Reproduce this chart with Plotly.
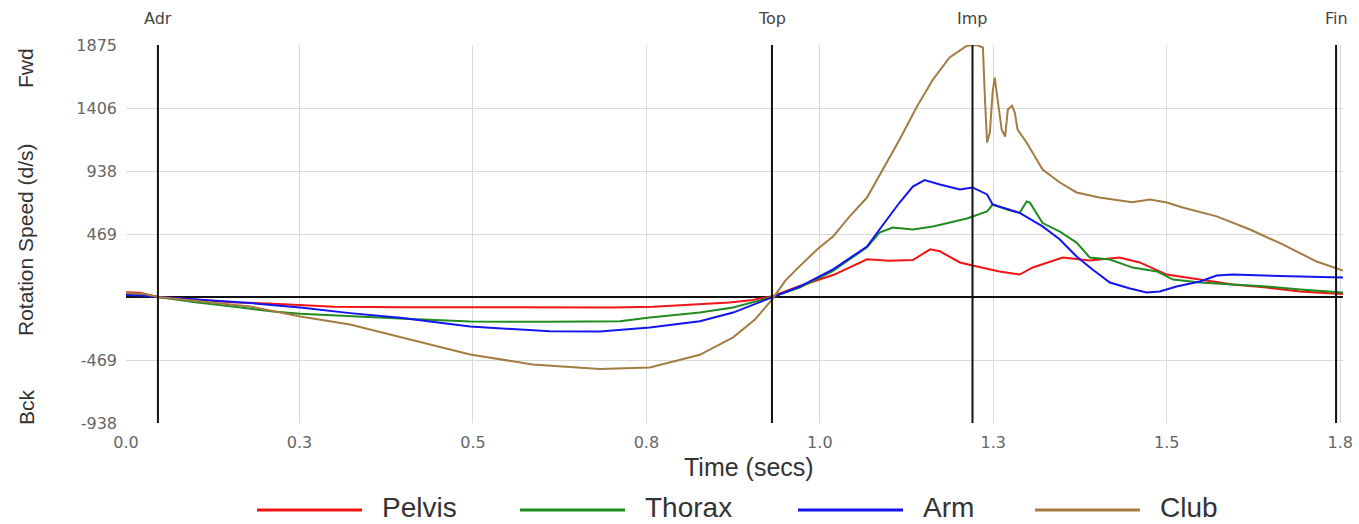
import plotly.graph_objects as go

# ---- rotation speed samples (time in s, speed in deg/s) ----
pelvis_t = [0.0, 0.02, 0.046, 0.10, 0.16, 0.22, 0.27, 0.30, 0.40, 0.50, 0.60, 0.70, 0.76, 0.82,
            0.87, 0.90, 0.931, 0.97, 1.02, 1.068, 1.10, 1.134, 1.159, 1.173, 1.202, 1.22, 1.259,
            1.288, 1.307, 1.35, 1.389, 1.432, 1.461, 1.50, 1.548, 1.595, 1.644, 1.692, 1.739, 1.754]
pelvis_v = [35, 32, 0, -20, -40, -52, -62, -72, -76, -77, -78, -78, -72, -55,
            -40, -25, 5, 80, 165, 280, 270, 275, 355, 340, 257, 234, 190,
            167, 220, 294, 272, 294, 257, 167, 130, 93, 70, 41, 26, 22]

thorax_t = [0.0, 0.02, 0.046, 0.10, 0.16, 0.212, 0.251, 0.323, 0.395, 0.496, 0.611, 0.712, 0.755,
            0.827, 0.875, 0.924, 0.931, 0.971, 1.019, 1.068, 1.086, 1.105, 1.134, 1.163, 1.212,
            1.241, 1.249, 1.270, 1.288, 1.298, 1.303, 1.321, 1.346, 1.370, 1.389, 1.418, 1.451,
            1.486, 1.509, 1.548, 1.595, 1.644, 1.692, 1.754]
thorax_v = [20, 18, 0, -40, -75, -108, -125, -145, -160, -182, -185, -180, -153,
            -116, -78, -10, 0, 70, 195, 370, 480, 517, 502, 525, 584,
            636, 688, 650, 626, 710, 700, 550, 487, 405, 294, 279, 219,
            190, 130, 108, 93, 78, 56, 33]

arm_t = [0.0, 0.02, 0.046, 0.107, 0.179, 0.251, 0.323, 0.395, 0.496, 0.611, 0.683, 0.755, 0.827,
         0.875, 0.924, 0.931, 0.971, 1.019, 1.068, 1.086, 1.115, 1.134, 1.151, 1.173, 1.202, 1.220,
         1.241, 1.249, 1.259, 1.288, 1.321, 1.346, 1.370, 1.393, 1.418, 1.447, 1.471, 1.490, 1.514,
         1.548, 1.572, 1.595, 1.692, 1.754]
arm_v = [15, 12, 0, -20, -45, -78, -120, -155, -220, -255, -257, -227, -180,
         -116, -19, 0, 78, 205, 376, 502, 703, 822, 870, 837, 800, 815,
         763, 688, 673, 626, 525, 428, 301, 205, 108, 63, 33, 41, 78,
         115, 160, 167, 152, 145]

club_t = [0.0, 0.023, 0.046, 0.107, 0.179, 0.251, 0.323, 0.395, 0.496, 0.586, 0.683, 0.755, 0.827,
          0.875, 0.906, 0.931, 0.950, 0.971, 0.996, 1.019, 1.043, 1.068, 1.091, 1.115, 1.140, 1.163,
          1.187, 1.212, 1.226, 1.235, 1.238, 1.241, 1.245, 1.249, 1.252, 1.256, 1.262, 1.267, 1.271,
          1.277, 1.281, 1.285, 1.298, 1.321, 1.346, 1.370, 1.403, 1.450, 1.476, 1.500, 1.523, 1.572,
          1.620, 1.667, 1.716, 1.754]
club_v = [30, 25, 0, -30, -70, -145, -205, -298, -428, -502, -535, -525, -430,
          -300, -170, -20, 120, 230, 353, 450, 600, 740, 949, 1172, 1418, 1618,
          1782, 1870, 1875, 1856, 1470, 1150, 1224, 1522, 1633, 1492, 1246, 1194, 1395,
          1424, 1372, 1246, 1150, 949, 852, 778, 740, 705, 725, 703, 666, 600,
          502, 391, 264, 197]

series_names = ["Pelvis", "Thorax", "Arm", "Club"]
series_colors = ["#f01414", "#1e8c1e", "#1414f0", "#a47c42"]

# swing event markers
event_times = [0.046, 0.931, 1.220, 1.744]
event_labels = ["Adr", "Top", "Imp", "Fin"]

# axis ticks
x_tickvals = [0.0, 0.25, 0.5, 0.75, 1.0, 1.25, 1.5, 1.75]
x_ticktext = ["0.0", "0.3", "0.5", "0.8", "1.0", "1.3", "1.5", "1.8"]
y_tickvals = [-937.5, -468.75, 468.75, 937.5, 1406.25, 1875]
y_ticktext = ["-938", "-469", "469", "938", "1406", "1875"]

# ---- page geometry ----
W, H = 1359, 524
ML, MR, MT, MB = 126, 16, 45, 101
PW, PH = W - ML - MR, H - MT - MB


def paper_x(px):
    return (px - ML) / PW


def paper_y(py):
    return (H - MB - py) / PH


fig = go.Figure()
for name, color, t, v in zip(series_names, series_colors,
                             [pelvis_t, thorax_t, arm_t, club_t],
                             [pelvis_v, thorax_v, arm_v, club_v]):
    fig.add_trace(go.Scatter(x=t, y=v, mode="lines", name=name,
                             line=dict(color=color, width=2), showlegend=False))

shapes = []
annotations = []

# event lines and their labels
for et, lab in zip(event_times, event_labels):
    shapes.append(dict(type="line", xref="x", yref="paper", x0=et, x1=et, y0=0, y1=1,
                       line=dict(color="#111111", width=2), layer="above"))
    annotations.append(dict(text=lab, xref="x", yref="paper", x=et, y=paper_y(19),
                            xanchor="center", yanchor="middle", showarrow=False,
                            font=dict(family="DejaVu Sans", size=16, color="#444444")))

# left side labels
for txt, cy in [("Fwd", 68), ("Rotation Speed (d/s)", 240), ("Bck", 407)]:
    annotations.append(dict(text=txt, xref="paper", yref="paper", x=paper_x(26), y=paper_y(cy),
                            xanchor="center", yanchor="middle", textangle=-90, showarrow=False,
                            font=dict(family="Liberation Sans", size=21, color="#333333")))

# x-axis title
annotations.append(dict(text="Time (secs)", xref="paper", yref="paper", x=paper_x(749), y=paper_y(467),
                        xanchor="center", yanchor="middle", showarrow=False,
                        font=dict(family="Liberation Sans", size=25, color="#333333")))

# legend row
legend_line_x = [257, 520, 798, 1035]
legend_y = 510
for name, color, lx in zip(series_names, series_colors, legend_line_x):
    shapes.append(dict(type="line", xref="paper", yref="paper",
                       x0=paper_x(lx), x1=paper_x(lx + 105), y0=paper_y(legend_y), y1=paper_y(legend_y),
                       line=dict(color=color, width=3)))
    annotations.append(dict(text=name, xref="paper", yref="paper", x=paper_x(lx + 123), y=paper_y(507),
                            xanchor="left", yanchor="middle", showarrow=False,
                            font=dict(family="Liberation Sans", size=28, color="#333333")))

fig.update_layout(
    width=W, height=H,
    margin=dict(l=ML, r=MR, t=MT, b=MB, autoexpand=False),
    paper_bgcolor="white", plot_bgcolor="white",
    shapes=shapes, annotations=annotations,
    xaxis=dict(range=[0, 1.754], tickvals=x_tickvals, ticktext=x_ticktext, automargin=False,
               showgrid=True, gridcolor="#d9d9d9", gridwidth=1, zeroline=False,
               showline=False, ticks="", ticklabelstandoff=8,
               tickfont=dict(family="DejaVu Sans", size=16, color="#666666")),
    yaxis=dict(range=[-937.5, 1875], tickvals=y_tickvals, ticktext=y_ticktext, automargin=False,
               showgrid=True, gridcolor="#d9d9d9", gridwidth=1,
               zeroline=True, zerolinecolor="#111111", zerolinewidth=1.5,
               showline=False, ticks="", ticklabelstandoff=8,
               tickfont=dict(family="DejaVu Sans", size=16, color="#666666")),
)

fig.write_html("out.html")
